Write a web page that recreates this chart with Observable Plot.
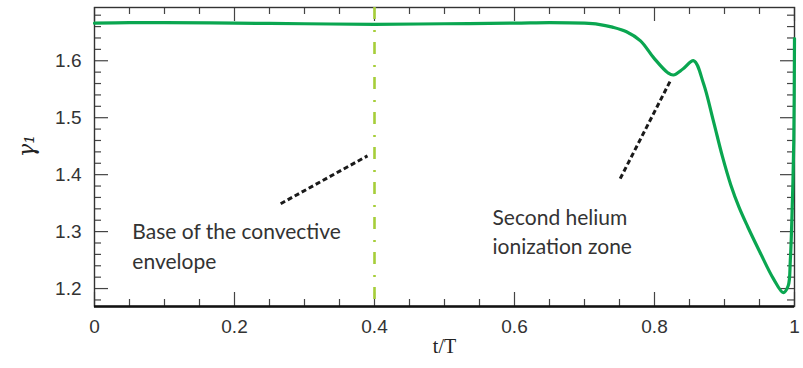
<!DOCTYPE html>
<html>
<head>
<meta charset="utf-8">
<script src="https://cdn.jsdelivr.net/npm/d3@7"></script>
<script src="https://cdn.jsdelivr.net/npm/@observablehq/plot@0.6"></script>
<style>
  html, body { margin: 0; padding: 0; background: #fff; }
  #chart svg { display: block; }
</style>
</head>
<body>
<div id="chart"></div>
<script>
// Adiabatic exponent gamma_1 across the star, against the normalised coordinate t/T
const phase = [0, 0.05, 0.1, 0.2, 0.3, 0.4, 0.5, 0.6, 0.65, 0.7, 0.72, 0.74, 0.76, 0.78, 0.799,
  0.819, 0.827, 0.841, 0.856, 0.870, 0.884, 0.897, 0.909, 0.921, 0.933, 0.951, 0.970, 0.984,
  0.991, 0.994, 0.997, 0.999, 1.0];
const gamma1 = [1.666, 1.667, 1.667, 1.666, 1.665, 1.664, 1.665, 1.666, 1.667, 1.666, 1.664, 1.659, 1.651, 1.635, 1.605,
  1.579, 1.575, 1.586, 1.600, 1.560, 1.495, 1.432, 1.382, 1.342, 1.309, 1.263, 1.217, 1.193,
  1.205, 1.249, 1.354, 1.46, 1.639];

// Base of the convective envelope
const baseT = [0.4];

// Axis ticks
const xMajor = [0, 0.2, 0.4, 0.6, 0.8, 1];
const xMinor = [0.05, 0.1, 0.15, 0.25, 0.3, 0.35, 0.45, 0.5, 0.55, 0.65, 0.7, 0.75, 0.85, 0.9, 0.95];
const yMajor = [1.2, 1.3, 1.4, 1.5, 1.6];
const yMinor = [1.18, 1.22, 1.24, 1.26, 1.28, 1.32, 1.34, 1.36, 1.38, 1.42, 1.44, 1.46, 1.48,
  1.52, 1.54, 1.56, 1.58, 1.62, 1.64, 1.66, 1.68];

// Annotations and their leader lines
const noteText = ["Base of the convective\nenvelope", "Second helium\nionization zone"];
const noteX = [0.054, 0.5686];
const noteY = [1.3228, 1.3491];
const leadX1 = [0.266, 0.751];
const leadY1 = [1.349, 1.393];
const leadX2 = [0.39, 0.824];
const leadY2 = [1.433, 1.568];

const W = 803, H = 368;
const mL = 94, mR = 9, mT = 7, mB = 62;
const innerW = W - mL - mR, innerH = H - mT - mB;
const majorLen = 14, minorLen = 7;

const curve = phase.map((t, i) => ({t, g: gamma1[i]}));
const notes = noteText.map((text, i) => ({text, x: noteX[i], y: noteY[i]}));
const leads = leadX1.map((x1, i) => ({x1, y1: leadY1[i], x2: leadX2[i], y2: leadY2[i]}));

const tickStyle = {stroke: "#444", strokeWidth: 1.2};

const chart = Plot.plot({
  width: W,
  height: H,
  marginLeft: mL,
  marginRight: mR,
  marginTop: mT,
  marginBottom: mB,
  x: {domain: [0, 1]},
  y: {domain: [1.1685, 1.6935]},
  style: {background: "#fff"},
  marks: [
    // inward ticks on all four sides
    Plot.tickX(xMajor, {x: d => d, insetTop: innerH - majorLen, ...tickStyle}),
    Plot.tickX(xMinor, {x: d => d, insetTop: innerH - minorLen, ...tickStyle}),
    Plot.tickX(xMajor, {x: d => d, insetBottom: innerH - majorLen, ...tickStyle}),
    Plot.tickX(xMinor, {x: d => d, insetBottom: innerH - minorLen, ...tickStyle}),
    Plot.tickY(yMajor, {y: d => d, insetRight: innerW - majorLen, ...tickStyle}),
    Plot.tickY(yMinor, {y: d => d, insetRight: innerW - minorLen, ...tickStyle}),
    Plot.tickY(yMajor, {y: d => d, insetLeft: innerW - majorLen, ...tickStyle}),
    Plot.tickY(yMinor, {y: d => d, insetLeft: innerW - minorLen, ...tickStyle}),
    Plot.frame({stroke: "#333", strokeWidth: 1.4}),
    Plot.ruleY([1.1685], {stroke: "#111", strokeWidth: 2.4}),
    // tick labels
    Plot.axisX({ticks: xMajor, tickSize: 0, tickPadding: 13, tickFormat: d => String(d),
      fontSize: 19, fontFamily: "Liberation Sans, sans-serif", fill: "#333", label: null}),
    Plot.axisY({ticks: yMajor, tickSize: 0, tickPadding: 13, tickFormat: d => String(d),
      fontSize: 19, fontFamily: "Liberation Sans, sans-serif", fill: "#333", label: null}),
    // axis titles
    Plot.text(["t/T"], {frameAnchor: "bottom", dy: 46, fontSize: 20,
      fontFamily: "Liberation Serif, DejaVu Serif, serif", fill: "#222"}),
    Plot.text(["γ₁"], {frameAnchor: "left", dx: -68, rotate: -90, fontSize: 22, fontStyle: "italic",
      fontFamily: "DejaVu Serif, Liberation Serif, serif", fill: "#222"}),
    // base of the convective envelope
    Plot.ruleX(baseT, {stroke: "#a6ce39", strokeWidth: 2.6, strokeDasharray: "12,11,2,10"}),
    // annotation leaders
    Plot.link(leads, {x1: "x1", y1: "y1", x2: "x2", y2: "y2", stroke: "#1a1a1a",
      strokeWidth: 3, strokeDasharray: "5,3"}),
    Plot.text(notes, {x: "x", y: "y", text: "text", textAnchor: "start", lineAnchor: "top",
      lineHeight: 1.4, fontSize: 21, fontFamily: "Lato, sans-serif", fill: "#333"}),
    // gamma_1 profile
    Plot.line(curve, {x: "t", y: "g", stroke: "#0aa650", strokeWidth: 3.2, curve: "catmull-rom"})
  ]
});

document.getElementById("chart").appendChild(chart);
</script>
</body>
</html>
